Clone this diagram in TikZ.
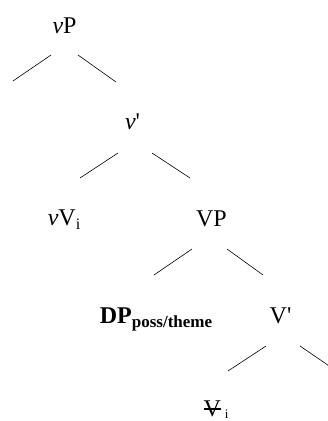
\documentclass[tikz,border=0pt]{standalone}
\usepackage{fontspec}
\setmainfont{Liberation Serif}[Ligatures=TeXOff]
\newcommand{\struck}[1]{\setbox0\hbox{#1}\rlap{\rule[0.27em]{\wd0}{0.06em}}#1}

\begin{document}
\begin{tikzpicture}[x=1pt,y=-1pt,
  lbl/.style={inner sep=0pt,anchor=base,font=\fontsize{24}{28}\selectfont},
  branch/.style={line width=0.6pt}]
\useasboundingbox (0,0) rectangle (328,421);
\clip (0,0) rectangle (328,421);
% labels
\node[lbl] (vP) at (64.5,33) {\textit{v}P};
\node[lbl] (vbar) at (132.5,129) {\textit{v}'};
\node[lbl] (vV) at (64,225) {\textit{v}V\raisebox{-4pt}{\fontsize{16}{18}\selectfont i}};
\node[lbl] (VP) at (211.5,226) {VP};
\node[lbl] (DP) at (156,323) {\textbf{DP}\raisebox{-4pt}{\fontsize{17}{19}\selectfont\bfseries poss/theme}};
\node[lbl] (Vbar) at (280.5,323) {V'};
\node[lbl] (Vt) at (216,416) {\struck{V}\,\raisebox{-2pt}{\fontsize{13}{15}\selectfont i}};
% empty ends
\coordinate (specL) at (13,81);
\coordinate (compR) at (338,372);
% branches
\draw[branch] ([shift={(-13.5,22)}]vP.base) -- (specL);
\draw[branch] ([shift={(13.5,22)}]vP.base) -- ([shift={(-16.5,-47)}]vbar.base);
\draw[branch] ([shift={(-14.5,24)}]vbar.base) -- ([shift={(16,-47)}]vV.base);
\draw[branch] ([shift={(19.5,24)}]vbar.base) -- ([shift={(-21.5,-48)}]VP.base);
\draw[branch] ([shift={(-19.5,23)}]VP.base) -- ([shift={(-2,-48)}]DP.base);
\draw[branch] ([shift={(15.5,23)}]VP.base) -- ([shift={(-17.5,-48)}]Vbar.base);
\draw[branch] ([shift={(-14.5,23)}]Vbar.base) -- ([shift={(12,-45)}]Vt.base);
\draw[branch] ([shift={(19.5,23)}]Vbar.base) -- (compR);
\end{tikzpicture}
\end{document}
